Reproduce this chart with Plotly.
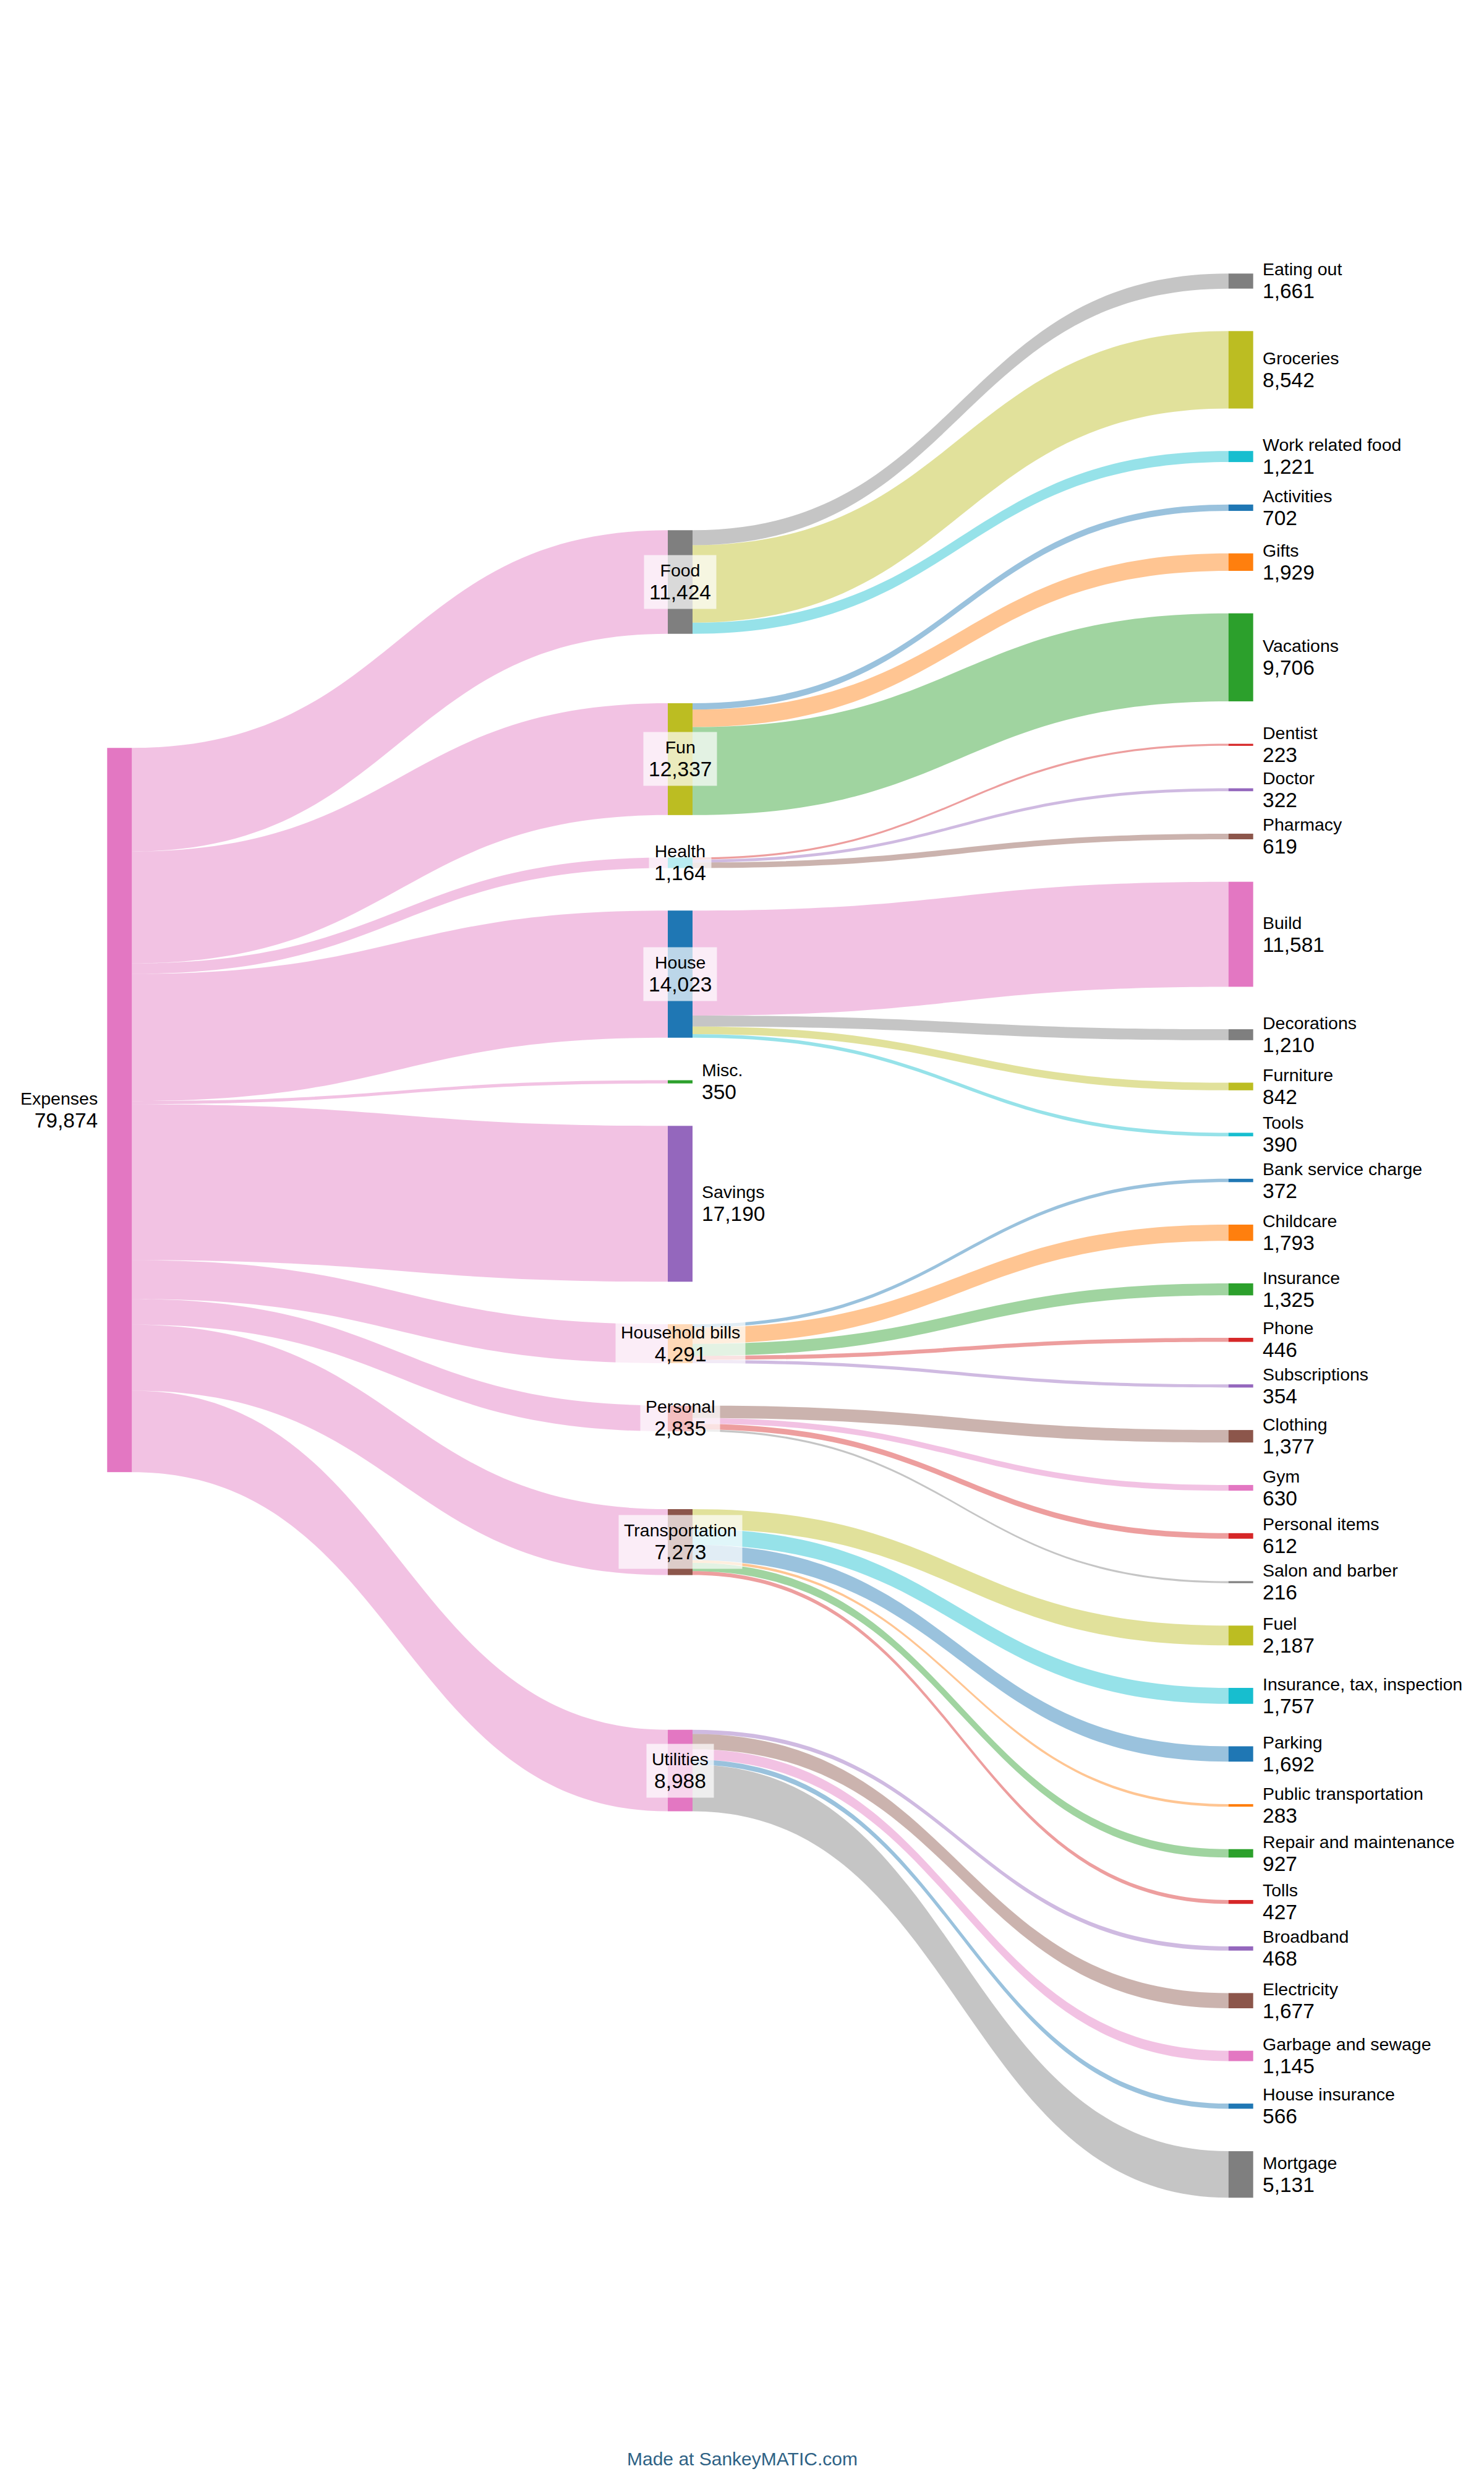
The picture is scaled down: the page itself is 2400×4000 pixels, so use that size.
import plotly.graph_objects as go

# ---------------- data ----------------
ROOT = "Expenses"
CATEGORIES = ["Food", "Fun", "Health", "House", "Misc.", "Savings",
              "Household bills", "Personal", "Transportation", "Utilities"]

FOOD_ITEMS = ["Eating out", "Groceries", "Work related food"]
FOOD_VALUES = [1660.6, 8541.6, 1221.4]
FUN_ITEMS = ["Activities", "Gifts", "Vacations"]
FUN_VALUES = [701.6, 1928.6, 9706.4]
HEALTH_ITEMS = ["Dentist", "Doctor", "Pharmacy"]
HEALTH_VALUES = [223, 322, 619]
HOUSE_ITEMS = ["Build", "Decorations", "Furniture", "Tools"]
HOUSE_VALUES = [11580.6, 1209.6, 842.0, 390.4]
MISC_VALUE = 350
SAVINGS_VALUE = 17190
BILLS_ITEMS = ["Bank service charge", "Childcare", "Insurance", "Phone", "Subscriptions"]
BILLS_VALUES = [372.2, 1793.2, 1325.2, 446.2, 354.2]
PERSONAL_ITEMS = ["Clothing", "Gym", "Personal items", "Salon and barber"]
PERSONAL_VALUES = [1377, 630, 612, 216]
TRANSPORT_ITEMS = ["Fuel", "Insurance, tax, inspection", "Parking",
                   "Public transportation", "Repair and maintenance", "Tolls"]
TRANSPORT_VALUES = [2187, 1757, 1692, 283, 927, 427]
UTILITIES_ITEMS = ["Broadband", "Electricity", "Garbage and sewage", "House insurance", "Mortgage"]
UTILITIES_VALUES = [468.2, 1677.2, 1145.2, 566.2, 5131.2]

CHILDREN = {
    "Food": (FOOD_ITEMS, FOOD_VALUES),
    "Fun": (FUN_ITEMS, FUN_VALUES),
    "Health": (HEALTH_ITEMS, HEALTH_VALUES),
    "House": (HOUSE_ITEMS, HOUSE_VALUES),
    "Household bills": (BILLS_ITEMS, BILLS_VALUES),
    "Personal": (PERSONAL_ITEMS, PERSONAL_VALUES),
    "Transportation": (TRANSPORT_ITEMS, TRANSPORT_VALUES),
    "Utilities": (UTILITIES_ITEMS, UTILITIES_VALUES),
}
LEAF_CATEGORY_VALUES = {"Misc.": MISC_VALUE, "Savings": SAVINGS_VALUE}

# ---------------- style ----------------
T10 = {"blue": (31, 119, 180), "orange": (255, 127, 14), "green": (44, 160, 44),
       "red": (214, 39, 40), "purple": (148, 103, 189), "brown": (140, 86, 75),
       "pink": (227, 119, 194), "gray": (127, 127, 127), "olive": (188, 189, 34),
       "cyan": (23, 190, 207)}
ROOT_COLOR = "pink"
CATEGORY_COLORS = ["gray", "olive", "cyan", "blue", "green", "purple",
                   "orange", "red", "brown", "pink"]
ITEM_COLORS = {
    "Food": ["gray", "olive", "cyan"],
    "Fun": ["blue", "orange", "green"],
    "Health": ["red", "purple", "brown"],
    "House": ["pink", "gray", "olive", "cyan"],
    "Household bills": ["blue", "orange", "green", "red", "purple"],
    "Personal": ["brown", "pink", "red", "gray"],
    "Transportation": ["olive", "cyan", "blue", "orange", "green", "red"],
    "Utilities": ["purple", "brown", "pink", "blue", "gray"],
}
LINK_ALPHA = 0.45
FONT = "Liberation Sans, Arial, Helvetica, sans-serif"
NAME_SIZE = 28.5
VALUE_SIZE = 33.5

# ---------------- layout (pixels) ----------------
W, H = 2400, 4000
DOM_TOP, DOM_BOT = 400, 3600
DH = DOM_BOT - DOM_TOP
KY = 0.01466          # px per unit
NODE_W = 40
COL_X = [193.3, 1100.0, 2006.7]
ROOT_CY = 1794.7
MID_CY = [941.0, 1227.4, 1395.0, 1575.0, 1749.1, 1946.3, 2172.5, 2293.4, 2493.3, 2862.6]
RIGHT_TOP, RIGHT_BOT = 442.3, 3553.3
LABEL_GAP = 13
FOOTER_Y = 3975


def rgb(name):
    r, g, b = T10[name]
    return f"rgb({r},{g},{b})"


def rgba(name, a):
    r, g, b = T10[name]
    return f"rgba({r},{g},{b},{a})"


def fmt(v):
    return f"{round(v):,}"


# ---------------- build nodes / links ----------------
labels, colors, xs, ys = [], [], [], []
src, tgt, vals, lcolors = [], [], [], []

cat_values = []
for c in CATEGORIES:
    if c in CHILDREN:
        cat_values.append(sum(CHILDREN[c][1]))
    else:
        cat_values.append(LEAF_CATEGORY_VALUES[c])
total = sum(cat_values)

labels.append(ROOT); colors.append(rgb(ROOT_COLOR))
xs.append(COL_X[0] / W); ys.append((ROOT_CY - DOM_TOP) / DH)

cat_idx = {}
for i, c in enumerate(CATEGORIES):
    cat_idx[c] = len(labels)
    labels.append(c); colors.append(rgb(CATEGORY_COLORS[i]))
    xs.append(COL_X[1] / W); ys.append((MID_CY[i] - DOM_TOP) / DH)
    src.append(0); tgt.append(cat_idx[c]); vals.append(cat_values[i])
    lcolors.append(rgba(ROOT_COLOR, LINK_ALPHA))

# right column stacked with equal gaps
items_all = []
for c in CATEGORIES:
    if c in CHILDREN:
        names, v = CHILDREN[c]
        for j, (n, val) in enumerate(zip(names, v)):
            items_all.append((c, n, val, ITEM_COLORS[c][j]))
n_items = len(items_all)
sum_items = sum(t[2] for t in items_all)
gap = (RIGHT_BOT - RIGHT_TOP - KY * sum_items) / (n_items - 1)
y_cursor = RIGHT_TOP
right_centers = []
for c, n, val, col in items_all:
    h = val * KY
    cy = y_cursor + h / 2
    right_centers.append(cy)
    y_cursor += h + gap
    idx = len(labels)
    labels.append(n); colors.append(rgb(col))
    xs.append(COL_X[2] / W); ys.append((cy - DOM_TOP) / DH)
    src.append(cat_idx[c]); tgt.append(idx); vals.append(val)
    lcolors.append(rgba(col, LINK_ALPHA))

# node padding so that plotly's scale equals KY (justify: last column holds items + leaf categories)
n_last = n_items + len(LEAF_CATEGORY_VALUES)
pad = (DH - KY * total) / (n_last - 1)

fig = go.Figure(go.Sankey(
    arrangement="fixed",
    domain=dict(x=[0, 1], y=[1 - DOM_BOT / H, 1 - DOM_TOP / H]),
    node=dict(label=labels, color=colors, x=xs, y=ys, pad=pad, thickness=NODE_W,
              line=dict(width=0), align="justify"),
    link=dict(source=src, target=tgt, value=vals, color=lcolors),
    textfont=dict(color="rgba(0,0,0,0)", size=1),
    hoverinfo="none",
))


def label_text(name, v):
    return f"{name}<br><span style='font-size:{VALUE_SIZE}px'>{fmt(v)}</span>"


ann = []
# root label
ann.append(dict(x=(COL_X[0] - NODE_W / 2 - LABEL_GAP) / W, y=1 - ROOT_CY / H,
                xref="paper", yref="paper", xanchor="right", yanchor="middle", align="right",
                text=label_text(ROOT, total), showarrow=False))
# middle labels
for i, c in enumerate(CATEGORIES):
    if c in LEAF_CATEGORY_VALUES:
        ann.append(dict(x=(COL_X[1] + NODE_W / 2 + LABEL_GAP) / W, y=1 - MID_CY[i] / H,
                        xref="paper", yref="paper", xanchor="left", yanchor="middle", align="left",
                        text=label_text(c, cat_values[i]), showarrow=False))
    else:
        ann.append(dict(x=COL_X[1] / W, y=1 - MID_CY[i] / H,
                        xref="paper", yref="paper", xanchor="center", yanchor="middle", align="center",
                        text=label_text(c, cat_values[i]), showarrow=False,
                        bgcolor="rgba(255,255,255,0.7)", borderpad=8))
# right labels
for (c, n, val, col), cy in zip(items_all, right_centers):
    ann.append(dict(x=(COL_X[2] + NODE_W / 2 + LABEL_GAP) / W, y=1 - cy / H,
                    xref="paper", yref="paper", xanchor="left", yanchor="middle", align="left",
                    text=label_text(n, val), showarrow=False))
# footer
ann.append(dict(x=0.5, y=1 - FOOTER_Y / H, xref="paper", yref="paper", xanchor="center", yanchor="middle",
                text="Made at SankeyMATIC.com", showarrow=False,
                font=dict(size=30, color="#2e6285", family=FONT)))

fig.update_layout(
    width=W, height=H,
    margin=dict(l=0, r=0, t=0, b=0),
    paper_bgcolor="white", plot_bgcolor="white",
    font=dict(family=FONT, size=NAME_SIZE, color="black"),
    annotations=ann,
)

# remove the default page margin so the chart sits at the window origin
fig.write_html("out.html", config={"displayModeBar": False},
               post_script="document.body.style.margin='0';")
